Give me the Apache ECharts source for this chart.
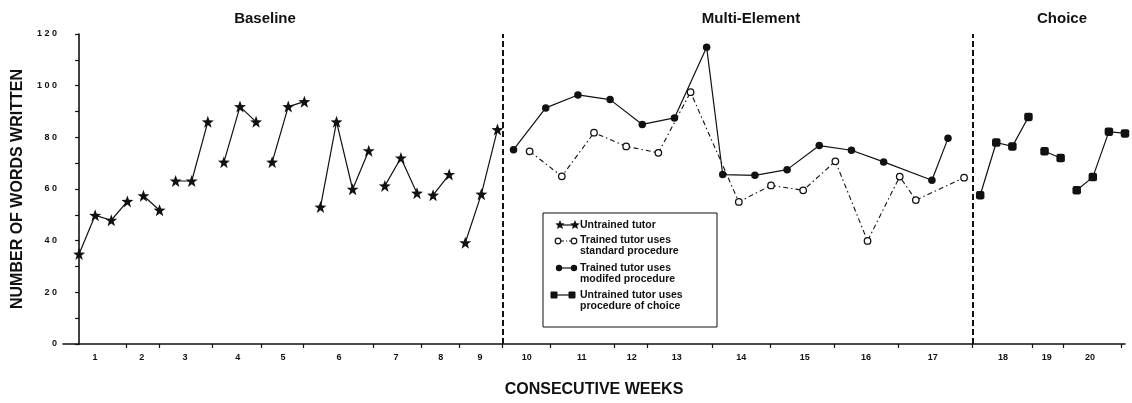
<!DOCTYPE html>
<html>
<head>
<meta charset="utf-8">
<script src="https://cdn.jsdelivr.net/npm/echarts@6/dist/echarts.min.js"></script>
<style>
  html, body { margin: 0; padding: 0; background: #fff; }
  #chart { width: 1132px; height: 403px; }
</style>
</head>
<body>
<div id="chart"></div>
<script>
// Sessions are numbered consecutively from 0 along the x axis.

// Baseline: untrained tutor, sessions 0..26
const baselineStart = 0;
const baselineValues = [34.8, 49.8, 47.9, 55.2, 57.4, 51.8, 63.1, 63.1, 86.0, 70.4,
  91.9, 86.0, 70.4, 91.9, 93.8, 53.0, 86.0, 59.9, 74.8, 61.2,
  72.0, 58.4, 57.6, 65.6, 39.2, 58.0, 83.0];
// the line is not drawn between session i and i+1
const baselineBreaks = [3, 5, 8, 11, 14, 18, 21, 23];

// Multi-element: trained tutor, modified procedure
const modifiedSessions = [27, 29, 31, 33, 35, 37, 39, 40, 42, 44, 46, 48, 50, 53, 54];
const modifiedValues = [75.2, 91.4, 96.4, 94.6, 85.0, 87.5, 114.9, 65.6, 65.3, 67.5,
  76.8, 75.0, 70.5, 63.4, 79.6];

// Multi-element: trained tutor, standard procedure
const standardSessions = [28, 30, 32, 34, 36, 38, 41, 43, 45, 47, 49, 51, 52, 55];
const standardValues = [74.6, 64.9, 81.8, 76.5, 74.0, 97.5, 55.0, 61.4, 59.5, 70.7,
  39.9, 64.8, 55.7, 64.4];

// Choice: untrained tutor, procedure of choice, sessions 56..65
const choiceStart = 56;
const choiceValues = [57.6, 78.0, 76.5, 87.9, 74.6, 72.0, 59.5, 64.6, 82.2, 81.5];
const choiceBreaks = [59, 61];

// Week boundaries and week label centres, in session units
const weekTicks = [2.96, 4.99, 8.28, 11.32, 13.96, 18.25, 21.29, 23.61, 26.3, 29.31,
  33.26, 35.28, 39.32, 42.98, 46.94, 50.91, 55.51, 59.21, 61.17, 64.76];
const weekCenters = [0.99, 3.89, 6.58, 9.86, 12.67, 16.15, 19.69, 22.47, 24.92, 27.82,
  31.24, 34.35, 37.14, 41.15, 45.1, 48.9, 53.05, 57.42, 60.14, 62.83];
const weekLabels = ['1', '2', '3', '4', '5', '6', '7', '8', '9', '10',
  '11', '12', '13', '14', '15', '16', '17', '18', '19', '20'];

// Phase change lines
const phaseChanges = [26.3, 55.51];
const phaseNames = ['Baseline', 'Multi-Element', 'Choice'];

const legendNames = [
  'Untrained tutor',
  'Trained tutor uses\nstandard procedure',
  'Trained tutor uses\nmodifed procedure',
  'Untrained tutor uses\nprocedure of choice'
];

const INK = '#111';
const FONT = '"Liberation Sans", Arial, Helvetica, sans-serif';
const STAR = 'path://M50,0 L63,35 L100,36 L70,58 L81,95 L50,73 L19,95 L30,58 L0,36 L37,35 Z';

// Consecutive sessions are joined; a gap entry is inserted after each break.
function runData(start, values, breaks) {
  const out = [];
  values.forEach((v, k) => {
    const s = start + k;
    out.push([s, v]);
    if (breaks.indexOf(s) >= 0) out.push([s + 0.5, '-']);
  });
  return out;
}
function pairData(sessions, values) {
  return sessions.map((s, k) => [s, values[k]]);
}
function starPoints(cx, cy, r) {
  const pts = [];
  for (let k = 0; k < 10; k++) {
    const a = -Math.PI / 2 + k * Math.PI / 5;
    const rr = k % 2 === 0 ? r : r * 0.45;
    pts.push([cx + rr * Math.cos(a), cy + rr * Math.sin(a)]);
  }
  return pts;
}

const chart = echarts.init(document.getElementById('chart'), null, { renderer: 'canvas' });

// Legend box drawn as graphic elements
const lg = { x: 543, y: 213, w: 174, h: 114 };
const legendGraphics = [
  { type: 'rect', shape: { x: lg.x, y: lg.y, width: lg.w, height: lg.h },
    style: { fill: '#fff', stroke: INK, lineWidth: 1 }, z: 10 },
  // row 1: stars
  { type: 'line', shape: { x1: 563, y1: 225, x2: 573, y2: 225 }, style: { stroke: INK, lineWidth: 1.2 }, z: 11 },
  { type: 'polygon', shape: { points: starPoints(560, 225, 5) }, style: { fill: INK }, z: 12 },
  { type: 'polygon', shape: { points: starPoints(575, 225, 5) }, style: { fill: INK }, z: 12 },
  // row 2: open circles, dash-dot
  { type: 'line', shape: { x1: 561, y1: 241, x2: 571, y2: 241 }, style: { stroke: INK, lineWidth: 1.2, lineDash: [3, 2, 1, 2] }, z: 11 },
  { type: 'circle', shape: { cx: 558, cy: 241, r: 2.8 }, style: { fill: '#fff', stroke: INK, lineWidth: 1.2 }, z: 12 },
  { type: 'circle', shape: { cx: 574, cy: 241, r: 2.8 }, style: { fill: '#fff', stroke: INK, lineWidth: 1.2 }, z: 12 },
  // row 3: filled circles
  { type: 'line', shape: { x1: 561, y1: 268, x2: 572, y2: 268 }, style: { stroke: INK, lineWidth: 1.2 }, z: 11 },
  { type: 'circle', shape: { cx: 559, cy: 268, r: 3.2 }, style: { fill: INK }, z: 12 },
  { type: 'circle', shape: { cx: 574, cy: 268, r: 3.2 }, style: { fill: INK }, z: 12 },
  // row 4: squares
  { type: 'line', shape: { x1: 557, y1: 295, x2: 569, y2: 295 }, style: { stroke: INK, lineWidth: 1.2 }, z: 11 },
  { type: 'rect', shape: { x: 550.5, y: 291.5, width: 7, height: 7, r: 1 }, style: { fill: INK }, z: 12 },
  { type: 'rect', shape: { x: 568.5, y: 291.5, width: 7, height: 7, r: 1 }, style: { fill: INK }, z: 12 }
];
const legendTextY = [225, 245.5, 273.5, 300.5];
legendNames.forEach((t, k) => {
  legendGraphics.push({
    type: 'text', z: 12,
    style: { text: t, x: 580, y: legendTextY[k], align: 'left', verticalAlign: 'middle',
      font: 'bold 10.5px ' + FONT, fill: INK, lineHeight: 11 }
  });
});

const titleX = [265, 751, 1062];
const titleGraphics = phaseNames.map((t, k) => ({
  type: 'text', z: 5,
  style: { text: t, x: titleX[k], y: 19, align: 'center', verticalAlign: 'middle',
    font: 'bold 15px ' + FONT, fill: INK }
}));

const option = {
  backgroundColor: '#fff',
  animation: false,
  grid: { left: 63, right: 7, top: 34, bottom: 54, containLabel: false },
  xAxis: {
    type: 'value', min: -1, max: 65,
    name: 'CONSECUTIVE WEEKS', nameLocation: 'middle', nameGap: 38,
    nameTextStyle: { fontFamily: FONT, fontWeight: 'bold', fontSize: 16, color: INK },
    axisLine: { lineStyle: { color: INK, width: 1.6 } },
    axisTick: { show: true, length: 4, customValues: weekTicks, lineStyle: { color: INK, width: 1.2 } },
    axisLabel: {
      customValues: weekCenters, margin: 9,
      fontFamily: FONT, fontWeight: 'bold', fontSize: 9, color: INK,
      formatter: v => {
        const k = weekCenters.findIndex(c => Math.abs(c - v) < 1e-6);
        return k >= 0 ? weekLabels[k] : '';
      }
    },
    splitLine: { show: false }
  },
  yAxis: {
    type: 'value', min: 0, max: 120, interval: 10,
    name: 'NUMBER OF WORDS WRITTEN', nameLocation: 'middle', nameGap: 36, nameRotate: 90,
    nameTextStyle: { fontFamily: FONT, fontWeight: 'bold', fontSize: 16, color: INK },
    axisLine: { show: true, lineStyle: { color: INK, width: 1.6 } },
    axisTick: { show: true, length: 4, lineStyle: { color: INK, width: 1.2 } },
    axisLabel: {
      margin: 6, fontFamily: FONT, fontWeight: 'bold', fontSize: 9, color: INK,
      formatter: v => (v % 20 === 0 ? String(v).split('').join(' ') : '')
    },
    splitLine: { show: false }
  },
  graphic: titleGraphics.concat(legendGraphics),
  series: [
    {
      name: 'Untrained tutor', type: 'line',
      data: runData(baselineStart, baselineValues, baselineBreaks),
      connectNulls: false,
      symbol: STAR, symbolSize: 12,
      lineStyle: { color: INK, width: 1.2 },
      itemStyle: { color: INK },
      markLine: {
        silent: true, symbol: 'none', label: { show: false },
        lineStyle: { color: INK, width: 2, type: [6, 3] },
        data: phaseChanges.map(x => ({ xAxis: x }))
      }
    },
    {
      name: 'Trained tutor uses standard procedure', type: 'line',
      data: pairData(standardSessions, standardValues),
      symbol: 'circle', symbolSize: 6.5,
      lineStyle: { color: INK, width: 1.1, type: [5, 3, 1.5, 3] },
      itemStyle: { color: '#fff', borderColor: INK, borderWidth: 1.3 }
    },
    {
      name: 'Trained tutor uses modifed procedure', type: 'line',
      data: pairData(modifiedSessions, modifiedValues),
      symbol: 'circle', symbolSize: 7.5,
      lineStyle: { color: INK, width: 1.2 },
      itemStyle: { color: INK }
    },
    {
      name: 'Untrained tutor uses procedure of choice', type: 'line',
      data: runData(choiceStart, choiceValues, choiceBreaks),
      connectNulls: false,
      symbol: 'roundRect', symbolSize: 8.5,
      lineStyle: { color: INK, width: 1.2 },
      itemStyle: { color: INK }
    }
  ]
};

chart.setOption(option);
</script>
</body>
</html>
